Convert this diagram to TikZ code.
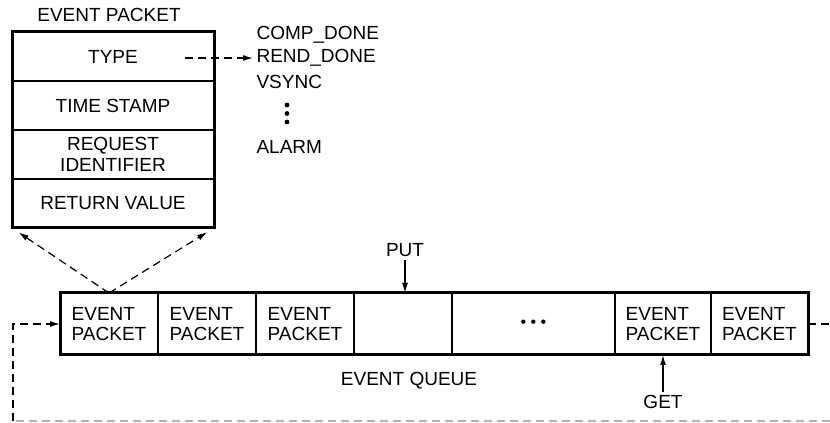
\documentclass[tikz,border=0pt]{standalone}
\usepackage{fontspec}
\setmainfont{Liberation Sans}
\usetikzlibrary{arrows.meta,positioning}

\begin{document}
\begin{tikzpicture}[
  x=1pt,y=1pt,>={Latex[length=10pt,width=6pt]},
  field/.style={draw,line width=1.5pt,minimum width=202pt,
    minimum height=49pt,inner sep=0pt,outer sep=0pt,align=center},
  cell/.style={draw,line width=1.5pt,minimum height=62pt,
    inner sep=0pt,outer sep=0pt,align=left},
  link/.style={->,line width=1.2pt,dash pattern=on 8pt off 5pt},
  loopline/.style={line width=1.2pt,dash pattern=on 8pt off 5pt},
  point/.style={->,line width=1.2pt},
  dotmark/.style={circle,fill,inner sep=0pt,minimum size=4.8pt},
  every node/.style={font=\fontsize{19}{20.5}\selectfont}
]
  \useasboundingbox (0,0) rectangle (830,423);

  % event packet
  \node (title) at (109,408) {EVENT PACKET};
  \node[field] (type) at (113,366.5) {TYPE};
  \node[field,below=0pt of type] (stamp) {TIME STAMP};
  \node[field,below=0pt of stamp] (reqid) {REQUEST\\IDENTIFIER};
  \node[field,below=0pt of reqid] (retval) {RETURN VALUE};
  \draw[line width=3pt] (type.north west) rectangle (retval.south east);

  % event types
  \node[anchor=west] (comp) at (253,388) {COMP\_DONE};
  \node[anchor=west] (rend) at (253,365) {REND\_DONE};
  \node[anchor=west] (vsync) at (253,341) {VSYNC};
  \node[dotmark] (vdot1) at (287,318) {};
  \node[dotmark] (vdot2) at (287,309.5) {};
  \node[dotmark] (vdot3) at (287,301) {};
  \node[anchor=west] (alarm) at (253,276) {ALARM};
  \coordinate (typeout) at (185,365);
  \draw[link] (typeout) -- (rend.west);

  % event queue
  \node[cell,minimum width=98pt] (q1) at (109,99) {EVENT\\PACKET};
  \node[cell,minimum width=98pt,right=0pt of q1] (q2) {EVENT\\PACKET};
  \node[cell,minimum width=98pt,right=0pt of q2] (q3) {EVENT\\PACKET};
  \node[cell,minimum width=98pt,right=0pt of q3] (q4) {};
  \node[cell,minimum width=163pt,right=0pt of q4,
    font=\fontsize{16}{16}\selectfont] (q5)
    {•\hspace{4.4pt}•\hspace{4.4pt}•};
  \node[cell,minimum width=96pt,right=0pt of q5] (q6) {EVENT\\PACKET};
  \node[cell,minimum width=97pt,right=0pt of q6] (q7) {EVENT\\PACKET};
  \draw[line width=3pt] (q1.north west) rectangle (q7.south east);
  \node (qlabel) at (409,42) {EVENT QUEUE};

  \draw[link,shorten >=8pt] (q1.north) -- (retval.south west);
  \draw[link,shorten >=8pt] (q1.north) -- (retval.south east);

  % put and get
  \node (put) at (405,173) {PUT};
  \draw[point] (put.south) -- (put.south |- q4.north);
  \node (get) at (663,21) {GET};
  \draw[point] (get) -- (q6.south);

  % wrap around
  \coordinate (loopR) at (830,99);
  \coordinate (loopBR) at (830,2);
  \coordinate (loopBL) at (13,2);
  \draw[loopline] (q7.east) -- (loopR);
  \draw[loopline,gray!60] (loopBR) -- (loopBL);
  \draw[link] (loopBL) |- (q1.west);
\end{tikzpicture}
\end{document}
